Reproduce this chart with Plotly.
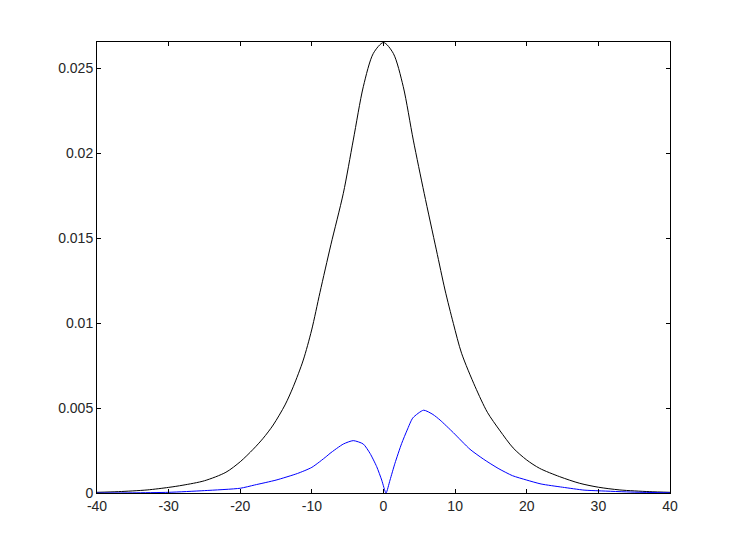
import plotly.graph_objects as go

# black curve
x_black = [-40, -37, -33, -30, -28, -25, -22, -20, -18.2, -16.8, -15.4, -13.75, -12.6,
           -11.2, -10.03, -8.87, -7.35, -5.61, -4.22, -2.82, -1.42, 0, 1.37, 2.76, 4.16,
           5.68, 7.38, 8.59, 9.75, 10.9, 12.8, 14.5, 16.2, 18.1, 20, 21.8, 24.6, 27.4,
           30, 33, 37.1, 40]
y_black = [0.00004, 0.00008, 0.00018, 0.00033, 0.00046, 0.00072, 0.00122, 0.00184,
           0.00257, 0.00322, 0.004, 0.00518, 0.00625, 0.00782, 0.00959, 0.0118, 0.0146,
           0.01763, 0.02076, 0.0239, 0.02586, 0.0265, 0.02586, 0.0239, 0.02076, 0.01763,
           0.0143, 0.01194, 0.00998, 0.00822, 0.00625, 0.00475, 0.0037, 0.00265, 0.00194,
           0.00145, 0.00096, 0.00057, 0.00034, 0.00018, 0.00008, 0.00004]

# blue curve
x_blue = [-40, -35, -30, -25, -20, -18, -15, -12, -10, -8, -7.47, -5.61, -4.22, -2.82,
          -1.88, -0.95, -0.25, 0.35, 0.91, 1.6, 2.54, 3.3, 4.1, 5.6, 6.9, 7.9, 9.75,
          12.08, 14, 16, 18, 20, 22, 25, 28, 30, 35, 40]
y_blue = [0.0, 0.00001, 0.00004, 0.00014, 0.00028, 0.00047, 0.00076, 0.00115, 0.00151,
          0.00214, 0.00233, 0.00288, 0.00308, 0.00288, 0.00233, 0.00155, 0.00076, 0.0,
          0.00076, 0.00175, 0.00292, 0.0037, 0.00442, 0.00487, 0.00462, 0.00429,
          0.00355, 0.00257, 0.00198, 0.00145, 0.00102, 0.00076, 0.00053, 0.00034,
          0.00017, 0.00013, 0.00005, 0.00001]

x_ticks = [-40, -30, -20, -10, 0, 10, 20, 30, 40]
x_labels = ['-40', '-30', '-20', '-10', '0', '10', '20', '30', '40']
y_ticks = [0, 0.005, 0.01, 0.015, 0.02, 0.025]
y_labels = ['0', '0.005', '0.01', '0.015', '0.02', '0.025']

fig = go.Figure()
fig.add_trace(go.Scatter(x=x_black, y=y_black, mode='lines',
                         line=dict(color='#000000', width=1, shape='spline', smoothing=0.8)))
fig.add_trace(go.Scatter(x=x_blue, y=y_blue, mode='lines',
                         line=dict(color='#0000ff', width=1, shape='spline', smoothing=0.6)))

axis_style = dict(showline=True, linecolor='#000000', linewidth=1, mirror='ticks',
                  ticks='inside', ticklen=4, tickcolor='#000000', showgrid=False,
                  zeroline=False, tickfont=dict(size=14, color='#262626'))

fig.update_layout(
    width=741, height=555,
    plot_bgcolor='#ffffff', paper_bgcolor='#ffffff',
    showlegend=False,
    font=dict(family='Liberation Sans, Arial, sans-serif'),
    # page body adds 8px, so shift the margins to keep the plot box in place
    margin=dict(l=89, r=79, t=34, b=70),
    xaxis=dict(range=[-40, 40], tickvals=x_ticks, ticktext=x_labels, **axis_style),
    yaxis=dict(range=[0, 0.02653], tickvals=y_ticks, ticktext=y_labels, **axis_style),
)

fig.write_html("out.html")
